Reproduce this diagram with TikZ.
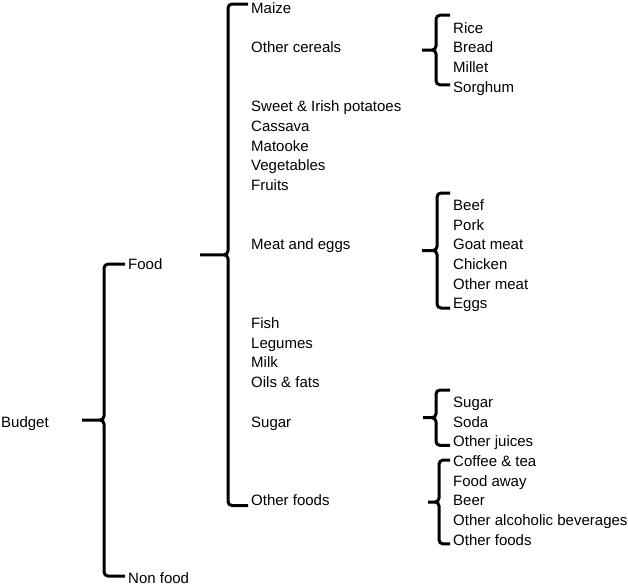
\documentclass[tikz,border=0pt]{standalone}
\usepackage{fontspec}
\setmainfont{Liberation Sans}
\usetikzlibrary{calc}

% curly bracket from a top child to a bottom child, tip pointing left
\newcommand{\brak}[6]{%
  \path ([yshift=#2]#1.west) coordinate (ba) ([yshift=-#4]#3.west) coordinate (bb);
  \draw[brak] (ba) -- ++(-#5,0) coordinate (bt) -- ($(bt)!0.5!(bt|-bb)$) coordinate (bm)
    -- ++(-#6,0) coordinate (bx) (bx) -- (bm) -- (bt|-bb) -- (bb);}

\begin{document}
\begin{tikzpicture}[x=1pt, y=1pt,
  lbl/.style={anchor=west, inner xsep=3pt, inner ysep=0pt, text height=10.7pt, text depth=0pt, font=\fontsize{15}{18}\selectfont},
  brak/.style={line width=3pt, rounded corners=4pt}]
\useasboundingbox (0,0) rectangle (628,-587);

\node[lbl] (budget) at (-2,-421.7) {Budget};
\node[lbl] (food) at (125,-264.1) {Food};
\node[lbl] (nonfood) at (125,-578) {Non food};

\node[lbl] (maize) at (248,-8) {Maize};
\node[lbl] (cereals) at (248,-47.4) {Other cereals};
\node[lbl] (potatoes) at (248,-106.5) {Sweet \& Irish potatoes};
\node[lbl] (cassava) at (248,-126.2) {Cassava};
\node[lbl] (matooke) at (248,-145.9) {Matooke};
\node[lbl] (vegetables) at (248,-165.6) {Vegetables};
\node[lbl] (fruits) at (248,-185.3) {Fruits};
\node[lbl] (meat) at (248,-244.4) {Meat and eggs};
\node[lbl] (fish) at (248,-323.2) {Fish};
\node[lbl] (legumes) at (248,-342.9) {Legumes};
\node[lbl] (milk) at (248,-362.6) {Milk};
\node[lbl] (oils) at (248,-382.3) {Oils \& fats};
\node[lbl] (sugar) at (248,-421.7) {Sugar};
\node[lbl] (otherfoods) at (248,-500.5) {Other foods};

\node[lbl] (rice) at (450,-27.7) {Rice};
\node[lbl] (bread) at (450,-47.4) {Bread};
\node[lbl] (millet) at (450,-67.1) {Millet};
\node[lbl] (sorghum) at (450,-86.8) {Sorghum};

\node[lbl] (beef) at (450,-205) {Beef};
\node[lbl] (pork) at (450,-224.7) {Pork};
\node[lbl] (goat) at (450,-244.4) {Goat meat};
\node[lbl] (chicken) at (450,-264.1) {Chicken};
\node[lbl] (othermeat) at (450,-283.8) {Other meat};
\node[lbl] (eggs) at (450,-303.5) {Eggs};

\node[lbl] (sugarb) at (450,-402) {Sugar};
\node[lbl] (soda) at (450,-421.7) {Soda};
\node[lbl] (juices) at (450,-441.4) {Other juices};

\node[lbl] (coffee) at (450,-461.1) {Coffee \& tea};
\node[lbl] (foodaway) at (450,-480.8) {Food away};
\node[lbl] (beer) at (450,-500.5) {Beer};
\node[lbl] (alcohol) at (450,-520.2) {Other alcoholic beverages};
\node[lbl] (otherfoodsb) at (450,-539.9) {Other foods};

\brak{food}{0}{nonfood}{-2}{21}{22}
\brak{maize}{4}{otherfoods}{5}{20}{28}
\brak{rice}{12.5}{sorghum}{-2}{14}{14}
\brak{beef}{12}{eggs}{4.5}{13}{15}
\brak{sugarb}{12}{juices}{4}{14}{13}
\brak{coffee}{1}{otherfoodsb}{4}{11}{11}
\end{tikzpicture}
\end{document}
